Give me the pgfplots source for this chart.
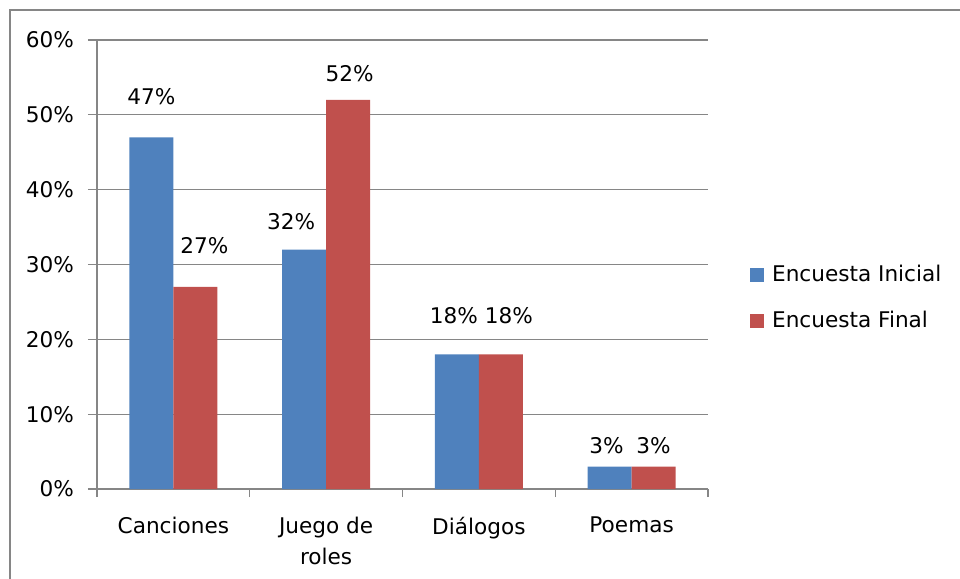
\documentclass[border=0pt]{standalone}
\usepackage{pgfplots}
\usepackage{pgfplotstable}
\pgfplotsset{compat=1.18}
\usepackage{fontspec}
\setmainfont{DejaVu Sans}
\definecolor{cblue}{RGB}{79,129,189}
\definecolor{cred}{RGB}{192,80,77}
\definecolor{cgrid}{RGB}{134,134,134}
\newcommand\fs{\fontsize{10.8pt}{15.5pt}\selectfont}
\pgfplotstableread{
x y dx dy
0 47 0 12.5
1 32 -6.5 6.5
2 18 -1.5 11.5
3 3 -1.5 3
}\inicial
\pgfplotstableread{
x y dx dy
0 27 4.5 13
1 52 0.75 5.5
2 18 4 11.5
3 3 0 3
}\final
\begin{document}
\begin{tikzpicture}
\useasboundingbox (0,0) rectangle (480pt,289.5pt);
\draw[cgrid,line width=0.6pt] (5pt,-5pt) -- (5pt,284.5pt) -- (485pt,284.5pt);
\begin{axis}[
  at={(48.5pt,45pt)}, anchor=south west,
  scale only axis, width=305.5pt, height=224.5pt,
  xmin=-0.5, xmax=3.5, ymin=0, ymax=60,
  axis x line*=bottom, axis y line*=left,
  axis line style={cgrid, line width=0.6pt},
  ymajorgrids, grid style={cgrid, line width=0.6pt},
  ytick={0,10,20,30,40,50,60},
  yticklabels={0\%,10\%,20\%,30\%,40\%,50\%,60\%},
  xtick={0,1,2,3},
  xticklabels={Canciones,{Juego de\\roles},Diálogos,Poemas},
  minor xtick={-0.5,0.5,1.5,2.5,3.5},
  major x tick style={draw=none},
  minor x tick style={cgrid, line width=0.6pt},
  y tick style={cgrid, line width=0.6pt},
  tick align=outside,
  major tick length=4.5pt, minor tick length=4pt,
  tick label style={font=\fs, text=black},
  xticklabel style={align=center, yshift=-6pt},
  yticklabel style={xshift=-3.5pt},
  /pgf/number format/assume math mode=true,
  ybar=0pt, bar width=0.288,
  visualization depends on={\thisrow{dx}\as\mydx},
  visualization depends on={\thisrow{dy}\as\mydy},
  nodes near coords={\pgfmathprintnumber{\pgfplotspointmeta}\%},
  nodes near coords style={font=\fs, text=black, xshift=\mydx pt, yshift=\mydy pt},
  legend style={draw=none, fill=none, at={(1.0585,0.518)}, anchor=north west,
    font=\fs, row sep=9.5pt, cells={anchor=west}},
  legend image code/.code={\fill[#1] (0pt,-3.5pt) rectangle (7pt,3.5pt); \path (9pt,0pt);},
]
\addplot[fill=cblue, draw=none, bar shift=-0.144] table[x=x,y=y] {\inicial};
\addplot[fill=cred, draw=none, bar shift=0.144] table[x=x,y=y] {\final};
\legend{Encuesta Inicial, Encuesta Final}
\end{axis}
\end{tikzpicture}
\end{document}
